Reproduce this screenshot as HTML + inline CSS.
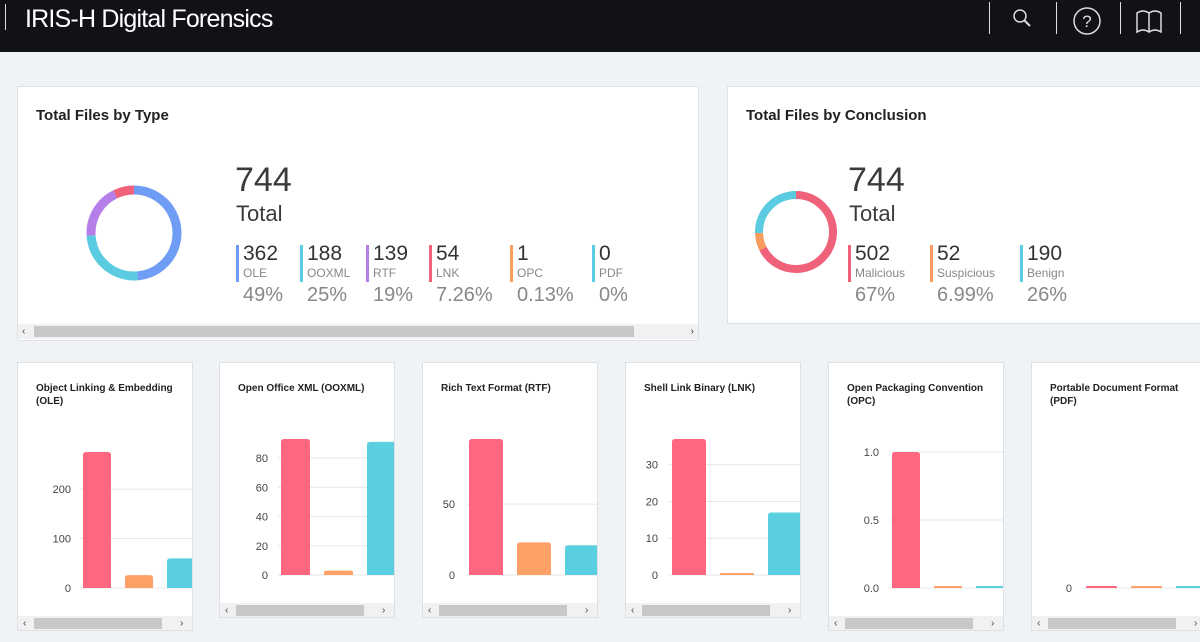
<!DOCTYPE html>
<html><head><meta charset="utf-8">
<style>
*{box-sizing:border-box;margin:0;padding:0}
body{width:1200px;height:642px;overflow:hidden;background:#f0f3f6;font-family:"Liberation Sans",sans-serif;position:relative}
#hdr{position:absolute;left:0;top:0;width:1200px;height:52px;background:#111218}
#hdr .t{position:absolute;left:25px;top:5px;color:#fff;font-size:25px;letter-spacing:-0.8px}
.sep{position:absolute;top:2px;width:1px;height:32px;background:#ddd}
.card{position:absolute;background:#fff;border:1px solid #dde1e5;overflow:hidden}
.ct{position:absolute;left:18px;top:20px;font-size:15px;font-weight:bold;color:#222}
.big{position:absolute;font-size:34px;color:#3b3b3b}
.tot{position:absolute;font-size:22px;color:#3b3b3b}
.lg{position:absolute;top:155px;padding-left:7px}
.lg .bar{position:absolute;left:0;top:3px;width:3px;height:37px}
.lg .n{font-size:21px;color:#333;line-height:24px}
.lg .l{font-size:12px;color:#888;line-height:14px}
.lg .p{font-size:20px;color:#888;line-height:26px;margin-top:2px}
.sb{position:absolute;height:15px;background:#f1f1f1}
.sb .th{position:absolute;top:2px;height:11px;background:#c8c8c8}
.sb .a{position:absolute;top:0;font-size:10px;color:#444;line-height:15px}
.small .st{position:absolute;left:18px;top:19px;font-size:10px;font-weight:bold;color:#222;line-height:13px;width:150px}
</style></head><body>
<div id="hdr">
 <div class="sep" style="left:5px;top:4px;height:26px"></div>
 <div class="t">IRIS-H Digital Forensics</div>
 <div class="sep" style="left:989px"></div>
 <svg style="position:absolute;left:1010px;top:7px" width="24" height="22"><circle cx="10" cy="9" r="6" fill="none" stroke="#ddd" stroke-width="1.5"/><line x1="14.5" y1="13.5" x2="20" y2="19" stroke="#ddd" stroke-width="2"/></svg>
 <div class="sep" style="left:1056px"></div>
 <svg style="position:absolute;left:1072px;top:6px" width="30" height="30"><circle cx="15" cy="15" r="13" fill="none" stroke="#ddd" stroke-width="1.5"/><text x="15" y="21" text-anchor="middle" fill="#ddd" font-size="17" font-family="Liberation Sans">?</text></svg>
 <div class="sep" style="left:1120px"></div>
 <svg style="position:absolute;left:1135px;top:8px" width="30" height="26"><path d="M2 5 Q8 1 14 5 L14 24 Q8 20 2 24 Z M14 5 Q20 1 26 5 L26 24 Q20 20 14 24" fill="none" stroke="#ddd" stroke-width="1.5"/></svg>
 <div class="sep" style="left:1180px"></div>
</div>

<div class="card" style="left:17px;top:86px;width:682px;height:255px">
 <div class="ct">Total Files by Type</div>
 <svg id="d1" style="position:absolute;left:66px;top:96px" width="100" height="100"></svg>
 <div class="big" style="left:217px;top:74px">744</div>
 <div class="tot" style="left:218px;top:114px">Total</div>
 <div id="lg1"></div>
 <div class="sb" style="left:0;top:237px;width:680px"><span class="a" style="left:4px">‹</span><div class="th" style="left:16px;width:600px"></div><span class="a" style="right:4px">›</span></div>
</div>

<div class="card" style="left:727px;top:86px;width:480px;height:238px">
 <div class="ct">Total Files by Conclusion</div>
 <svg id="d2" style="position:absolute;left:25px;top:102px" width="86" height="86"></svg>
 <div class="big" style="left:120px;top:74px">744</div>
 <div class="tot" style="left:121px;top:114px">Total</div>
 <div id="lg2"></div>
</div>

<div id="smalls"></div>

<script>
// donut data
const typeLabels=['OLE','OOXML','RTF','LNK','OPC','PDF'];
const typeCounts=[362,188,139,54,1,0];
const typePercents=['49%','25%','19%','7.26%','0.13%','0%'];
const concLabels=['Malicious','Suspicious','Benign'];
const concCounts=[502,52,190];
const concPercents=['67%','6.99%','26%'];
// bar chart data
const chartTitles=['Object Linking & Embedding (OLE)','Open Office XML (OOXML)','Rich Text Format (RTF)','Shell Link Binary (LNK)','Open Packaging Convention (OPC)','Portable Document Format (PDF)'];
const barCategories=['Malicious','Suspicious','Benign'];
const oleValues=[275,26,60];
const ooxmlValues=[93,3,91];
const rtfValues=[96,23,21];
const lnkValues=[37,0.3,17];
const opcValues=[1,0,0];
const pdfValues=[0,0,0];
const oleTicks=[0,100,200];
const ooxmlTicks=[0,20,40,60,80];
const rtfTicks=[0,50];
const lnkTicks=[0,10,20,30];
const opcTicks=[0,0.5,1.0];
const pdfTicks=[0];

const NS='http://www.w3.org/2000/svg';
function mk(tag,attrs,parent){const e=document.createElementNS(NS,tag);for(const k in attrs)e.setAttribute(k,attrs[k]);parent.appendChild(e);return e;}

function donut(svg,vals,colors,r,w){
  const c=svg.width.baseVal.value/2, C=2*Math.PI*r, tot=vals.reduce((a,b)=>a+b,0);
  let acc=0;
  vals.forEach((v,i)=>{
    if(v<=0)return;
    const len=v/tot*C;
    const s=mk('circle',{cx:c,cy:c,r:r,fill:'none',stroke:colors[i],'stroke-width':w,'stroke-dasharray':len+' '+(C-len),'stroke-dashoffset':-acc,transform:'rotate(-90 '+c+' '+c+')'},svg);
    
    
    acc+=len;
  });
}
const typeColors=['#6f9df5','#5acbe0','#b57ee8','#f0617a','#f99d5e','#5acbe0'];
const concColors=['#f0617a','#f99d5e','#5acbe0'];
donut(document.getElementById('d1'),typeCounts,typeColors,43,9);
donut(document.getElementById('d2'),concCounts,concColors,37,8);

function legend(host,labels,counts,pcts,colors,xs){
  labels.forEach((l,i)=>{
    const d=document.createElement('div');
    d.className='lg';d.style.left=xs[i]+'px';
    
    
    d.innerHTML='<div class="bar" style="background:'+colors[i]+'"></div><div class="n">'+counts[i]+'</div><div class="l">'+l+'</div><div class="p">'+pcts[i]+'</div>';
    host.parentNode.appendChild(d);
  });
}
legend(document.getElementById('lg1'),typeLabels,typeCounts,typePercents,typeColors,[218,282,348,411,492,574]);
legend(document.getElementById('lg2'),concLabels,concCounts,concPercents,concColors,[120,202,292]);

// layout (non-data)
const barColors=['#ff6680','#ffa066','#5acfe0'];
const layouts=[
 {x:17,h:269,y0:225,bx:65,bw:28,step:42,tx:53,vals:oleValues,ticks:oleTicks,fmt:v=>v},
 {x:219,h:256,y0:212,bx:61,bw:29,step:43,tx:48,vals:ooxmlValues,ticks:ooxmlTicks,fmt:v=>v},
 {x:422,h:256,y0:212,bx:46,bw:34,step:48,tx:32,vals:rtfValues,ticks:rtfTicks,fmt:v=>v},
 {x:625,h:256,y0:212,bx:46,bw:34,step:48,tx:32,vals:lnkValues,ticks:lnkTicks,fmt:v=>v},
 {x:828,h:269,y0:225,bx:63,bw:28,step:42,tx:50,vals:opcValues,ticks:opcTicks,fmt:v=>v.toFixed(1)},
 {x:1031,h:269,y0:225,bx:54,bw:31,step:45,tx:40,vals:pdfValues,ticks:pdfTicks,fmt:v=>v}
];
const host=document.getElementById('smalls');
layouts.forEach((L,ci)=>{
  const W=Math.min(176,1200-L.x+10);
  const card=document.createElement('div');
  card.className='card small';
  card.style.cssText='left:'+L.x+'px;top:362px;width:'+W+'px;height:'+L.h+'px';
  
  
  const t=document.createElement('div');t.className='st';t.textContent=chartTitles[ci];
  
  
  card.appendChild(t);
  const svg=document.createElementNS(NS,'svg');
  svg.setAttribute('width',W);svg.setAttribute('height',L.h);
  svg.setAttribute('style','position:absolute;left:0;top:0');
  
  
  card.appendChild(svg);
  const maxV=Math.max(...L.vals)||1, PH=136;
  const y=v=>L.y0-v/maxV*PH;
  L.ticks.forEach(tv=>{
    const g=mk('line',{x1:L.bx-3,x2:W,y1:y(tv),y2:y(tv),stroke:'#e6e6e6','stroke-width':1},svg);
    
    
    const tx=mk('text',{x:L.tx,y:y(tv)+4,'text-anchor':'end','font-size':11,fill:'#444','font-family':'Liberation Sans'},svg);
    tx.textContent=L.fmt(tv);
    
    
  });
  L.vals.forEach((v,i)=>{
    const x=L.bx+i*L.step;
    let top=y(v),hh=L.y0-top;
    if(hh<2){top=L.y0-2;hh=2;}
    const r=Math.min(3,hh/2);
    const p=mk('path',{d:'M'+x+' '+L.y0+' L'+x+' '+(top+r)+' Q'+x+' '+top+' '+(x+r)+' '+top+' L'+(x+L.bw-r)+' '+top+' Q'+(x+L.bw)+' '+top+' '+(x+L.bw)+' '+(top+r)+' L'+(x+L.bw)+' '+L.y0+' Z',fill:barColors[i]},svg);
    
    
  });
  const sb=document.createElement('div');sb.className='sb';
  sb.style.cssText='left:0;top:'+(L.h-16)+'px;width:'+W+'px';
  sb.innerHTML='<span class="a" style="left:5px">‹</span><div class="th" style="left:16px;width:128px"></div><span class="a" style="left:162px">›</span>';
  
  
  card.appendChild(sb);
  host.appendChild(card);
});
</script>
</body></html>
